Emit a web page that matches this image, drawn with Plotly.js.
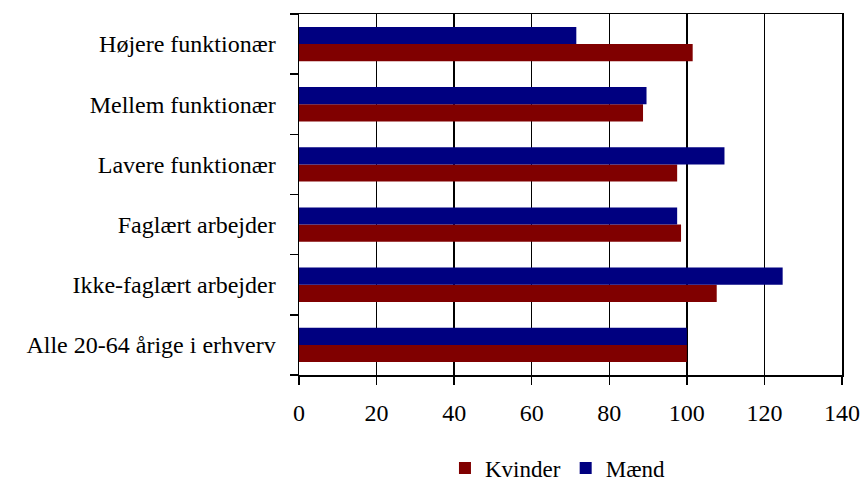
<!DOCTYPE html>
<html>
<head>
<meta charset="utf-8">
<script src="https://cdn.plot.ly/plotly-3.0.1.min.js"></script>
<style>html,body{margin:0;padding:0;background:#fff;}#chart{width:861px;height:481px;}</style>
</head>
<body>
<div id="chart"></div>
<script>
// Categories listed bottom to top
const categories = ["Alle 20-64 årige i erhverv", "Ikke-faglært arbejder", "Faglært arbejder", "Lavere funktionær", "Mellem funktionær", "Højere funktionær"];
const kvinder = [100, 107.7, 98.5, 97.5, 88.7, 101.5];
const maend = [100, 124.7, 97.5, 109.7, 89.6, 71.5];
const xTicks = [0, 20, 40, 60, 80, 100, 120, 140];

const fontFam = '"Liberation Serif", "Times New Roman", serif';
const fs = 24;

const data = [
  {type: 'bar', orientation: 'h', name: 'Kvinder', y: categories, x: kvinder,
   marker: {color: '#800000'}, hoverinfo: 'none'},
  {type: 'bar', orientation: 'h', name: 'Mænd', y: categories, x: maend,
   marker: {color: '#000080'}, hoverinfo: 'none'}
];

const layout = {
  width: 861, height: 481,
  margin: {l: 299, r: 19, t: 14, b: 106, autoexpand: false},
  paper_bgcolor: '#fff', plot_bgcolor: '#fff',
  barmode: 'group', bargap: 0.43, bargroupgap: 0,
  font: {family: fontFam, size: fs, color: '#000'},
  xaxis: {
    range: [0, 140], tickvals: xTicks, ticktext: xTicks.map(String),
    showgrid: true, gridcolor: '#000', gridwidth: 1.5,
    showline: true, linecolor: '#000', linewidth: 1.5, mirror: true,
    ticks: 'outside', ticklen: 8, tickcolor: '#000', tickwidth: 1.5,
    zeroline: false, fixedrange: true, automargin: false,
    ticklabelstandoff: 8,
    tickfont: {family: fontFam, size: fs, color: '#000'}
  },
  yaxis: {
    type: 'category', categoryorder: 'array', categoryarray: categories,
    tickson: 'boundaries', ticks: 'outside', ticklen: 8, tickcolor: '#000', tickwidth: 1.5,
    showline: true, linecolor: '#000', linewidth: 1.5, mirror: true,
    showgrid: false, zeroline: false, fixedrange: true, automargin: false,
    ticklabelstandoff: 17,
    tickfont: {family: fontFam, size: fs, color: '#000'}
  },
  showlegend: true,
  legend: {
    orientation: 'h', x: 0.476, xanchor: 'center', y: -0.258, yanchor: 'middle',
    font: {family: fontFam, size: 23, color: '#000'},
    itemwidth: 30, tracegroupgap: 0, bgcolor: 'rgba(0,0,0,0)'
  }
};

Plotly.newPlot('chart', data, layout, {displayModeBar: false, staticPlot: true});
</script>
</body>
</html>
